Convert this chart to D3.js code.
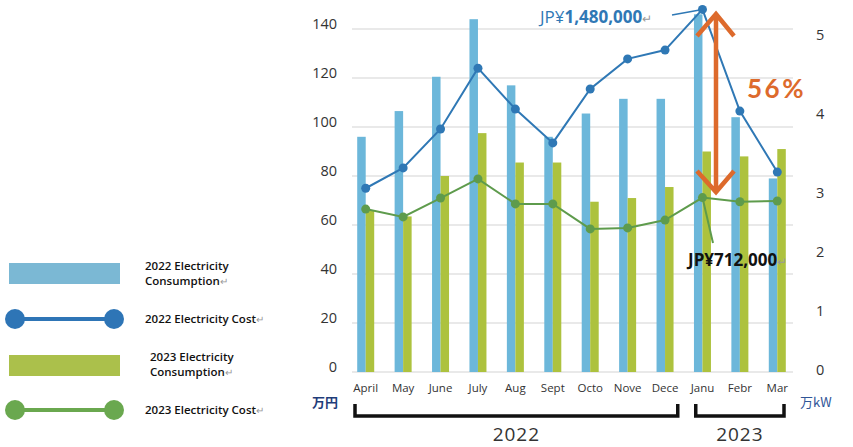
<!DOCTYPE html>
<html>
<head>
<meta charset="utf-8">
<script src="https://cdn.jsdelivr.net/npm/d3@7"></script>
<style>
  body { margin: 0; background: #fff; }
  svg { font-family: "Open Sans", "Noto Sans", sans-serif; }
  .axis path, .axis line { display: none; }
</style>
</head>
<body>
<svg id="chart" width="853" height="447"></svg>
<script>
// month labels as printed under the bars
var months = ["April", "May", "June", "July", "Aug", "Sept", "Octo", "Nove", "Dece", "Janu", "Febr", "Mar"];
// consumption bars (read on the left scale)
var cons2022 = [96, 106.5, 120.5, 144, 117, 96, 105.5, 111.5, 111.5, 146, 104, 79];
var cons2023 = [66, 63.5, 80, 97.5, 85.5, 85.5, 69.5, 71, 75.5, 90, 88, 91];
// cost lines, 万円
var cost2022 = [75, 83.3, 99.2, 124, 107.3, 93.5, 115.5, 127.8, 131.4, 148, 106.5, 81.6];
var cost2023 = [66.5, 63.3, 71, 78.8, 68.6, 68.6, 58.4, 58.8, 62, 71.2, 69.5, 69.8];
var leftTicks = [0, 20, 40, 60, 80, 100, 120, 140];
var rightTicks = [0, 1, 2, 3, 4, 5];
var years = [{label: "2022", from: "April", to: "Dece"}, {label: "2023", from: "Janu", to: "Mar"}];

var blueBar = "#6cb7da", greenBar = "#adc23e";
var blueLine = "#2f78b5", greenLine = "#5e9b4c", orange = "#dd6a2c";

var svg = d3.select("#chart");

var x = d3.scaleBand().domain(months).range([347, 796]);
var y = d3.scaleLinear().domain([0, 140]).range([372, 29]);
// right axis labels are not evenly spaced in the source
var yR = d3.scaleLinear().domain([0, 2, 3, 5]).range([370, 252, 193, 35]);

// gridlines
svg.append("g").selectAll("line")
    .data(leftTicks)
  .join("line")
    .attr("x1", 352).attr("x2", 793)
    .attr("y1", d => y(d)).attr("y2", d => y(d))
    .attr("stroke", "#e2e2e2")
    .attr("stroke-width", 1.5);

var bw = 8.5;
var bars = svg.append("g");
bars.selectAll("rect.b22")
    .data(cons2022)
  .join("rect")
    .attr("class", "b22")
    .attr("x", (d, i) => x(months[i]) + x.bandwidth() / 2 - bw)
    .attr("y", d => y(d))
    .attr("width", bw)
    .attr("height", d => y(0) - y(d))
    .attr("fill", blueBar);
bars.selectAll("rect.b23")
    .data(cons2023)
  .join("rect")
    .attr("class", "b23")
    .attr("x", (d, i) => x(months[i]) + x.bandwidth() / 2)
    .attr("y", d => y(d))
    .attr("width", bw)
    .attr("height", d => y(0) - y(d))
    .attr("fill", greenBar);

function drawLine(values, color) {
  var line = d3.line()
      .x((d, i) => x(months[i]) + x.bandwidth() / 2)
      .y(d => y(d));
  svg.append("path")
      .datum(values)
      .attr("d", line)
      .attr("fill", "none")
      .attr("stroke", color)
      .attr("stroke-width", 2);
  svg.append("g").selectAll("circle")
      .data(values)
    .join("circle")
      .attr("cx", (d, i) => x(months[i]) + x.bandwidth() / 2)
      .attr("cy", d => y(d))
      .attr("r", 4.5)
      .attr("fill", color);
}
drawLine(cost2022, blueLine);
drawLine(cost2023, greenLine);

// left axis
var axL = svg.append("g")
    .attr("class", "axis")
    .attr("transform", "translate(340,-5)")
    .call(d3.axisLeft(y).tickValues(leftTicks).tickSize(0).tickPadding(3));
axL.selectAll("text").attr("font-size", 14.5).attr("fill", "#333").attr("font-family", "Open Sans");

// right axis
var axR = svg.append("g")
    .attr("class", "axis")
    .attr("transform", "translate(813,0)")
    .call(d3.axisRight(yR).tickValues(rightTicks).tickFormat(d3.format("d")).tickSize(0).tickPadding(3));
axR.selectAll("text").attr("font-size", 14.5).attr("fill", "#333").attr("font-family", "Open Sans");

// bottom axis
var axB = svg.append("g")
    .attr("class", "axis")
    .attr("transform", "translate(0,372)")
    .call(d3.axisBottom(x).tickSize(0).tickPadding(12));
axB.selectAll("text").attr("font-size", 11.5).attr("fill", "#333").attr("font-family", "Open Sans");

// units
svg.append("text").attr("x", 312).attr("y", 407).text("万円")
    .attr("font-size", 13).attr("font-weight", "bold").attr("fill", "#1f3d7a")
    .attr("font-family", "Noto Sans CJK JP");
svg.append("text").attr("x", 800).attr("y", 407).text("万kW")
    .attr("font-size", 13).attr("fill", "#2f5597")
    .attr("font-family", "Noto Sans CJK JP");

// year brackets
var br = svg.append("g");
years.forEach(function(yr, i) {
  var x0 = x(yr.from) + (i === 0 ? 8 : 12);
  var x1 = x(yr.to) + x.bandwidth() - (i === 0 ? 6 : 12);
  br.append("path")
      .attr("d", "M" + x0 + ",404V416H" + x1 + "V404")
      .attr("fill", "none")
      .attr("stroke", "#111")
      .attr("stroke-width", 3.5);
  br.append("text")
      .attr("x", (x0 + x1) / 2)
      .attr("y", 441)
      .attr("text-anchor", "middle")
      .attr("font-size", 19)
      .attr("fill", "#333")
      .attr("letter-spacing", 1)
      .text(yr.label);
});

// annotations
var iMax = cost2022.indexOf(d3.max(cost2022));
var px = x(months[iMax]) + x.bandwidth() / 2;
svg.append("line")
    .attr("x1", 672).attr("y1", 15).attr("x2", px).attr("y2", y(cost2022[iMax]))
    .attr("stroke", blueLine).attr("stroke-width", 1.5);
var t1 = svg.append("text").attr("x", 540).attr("y", 23)
    .attr("font-size", 17).attr("fill", blueLine);
t1.append("tspan").text("JP¥");
t1.append("tspan").attr("font-weight", "bold").text("1,480,000");
t1.append("tspan").attr("fill", "#999").attr("font-size", 12).text("↵");

svg.append("line")
    .attr("x1", px).attr("y1", y(cost2023[iMax])).attr("x2", 713).attr("y2", 243)
    .attr("stroke", greenLine).attr("stroke-width", 2);
var t2 = svg.append("text").attr("x", 688).attr("y", 266)
    .attr("font-size", 17).attr("font-weight", "bold").attr("fill", "#111");
t2.append("tspan").text("JP¥712,000");
t2.append("tspan").attr("fill", "#999").attr("font-weight", "normal").attr("font-size", 12).text("↵");

// double arrow between the two January costs
var arrowX = 716, arrowTop = 14, arrowBot = 192;
svg.append("path")
    .attr("d", "M" + arrowX + "," + arrowTop + "V" + arrowBot +
      "M" + (arrowX - 19) + "," + (arrowTop + 22) + "L" + arrowX + "," + arrowTop + "L" + (arrowX + 18) + "," + (arrowTop + 22) +
      "M" + (arrowX - 19) + "," + (arrowBot - 21) + "L" + arrowX + "," + arrowBot + "L" + (arrowX + 18) + "," + (arrowBot - 21))
    .attr("fill", "none")
    .attr("stroke", orange)
    .attr("stroke-width", 4.5)
    .attr("stroke-linejoin", "miter");
svg.append("text").attr("x", 747).attr("y", 98)
    .attr("font-size", 26).attr("font-weight", "bold").attr("fill", orange)
    .attr("letter-spacing", 2.5).attr("font-family", "Lato, 'Open Sans', sans-serif")
    .text("56%");

// legend
var lg = svg.append("g").attr("font-family", "'Open Sans', sans-serif")
    .attr("font-size", 11.5).attr("font-weight", 600).attr("fill", "#111");
function legendText(tx, ty, lines) {
  var t = lg.append("text").attr("x", tx).attr("y", ty);
  lines.forEach(function(s, i) {
    t.append("tspan").attr("x", tx).attr("dy", i ? 14.5 : 0).text(s);
  });
  t.append("tspan").attr("fill", "#999").attr("font-weight", "normal").attr("font-size", 10).text("↵");
}
lg.append("rect").attr("x", 9).attr("y", 263).attr("width", 111).attr("height", 21).attr("fill", "#7bb8d4");
legendText(145, 270, ["2022 Electricity", "Consumption"]);
lg.append("line").attr("x1", 15).attr("x2", 114).attr("y1", 319).attr("y2", 319)
    .attr("stroke", "#2e75b6").attr("stroke-width", 4);
lg.selectAll("circle.l1").data([15, 114]).join("circle").attr("class", "l1")
    .attr("cx", d => d).attr("cy", 319).attr("r", 10).attr("fill", "#2e75b6");
legendText(145, 323, ["2022 Electricity Cost"]);
lg.append("rect").attr("x", 9).attr("y", 355).attr("width", 111).attr("height", 21).attr("fill", "#abc04b");
legendText(150, 361, ["2023 Electricity", "Consumption"]);
lg.append("line").attr("x1", 15).attr("x2", 114).attr("y1", 410).attr("y2", 410)
    .attr("stroke", "#6aa84f").attr("stroke-width", 4);
lg.selectAll("circle.l2").data([15, 114]).join("circle").attr("class", "l2")
    .attr("cx", d => d).attr("cy", 410).attr("r", 10).attr("fill", "#6aa84f");
legendText(145, 414, ["2023 Electricity Cost"]);
</script>
</body>
</html>
